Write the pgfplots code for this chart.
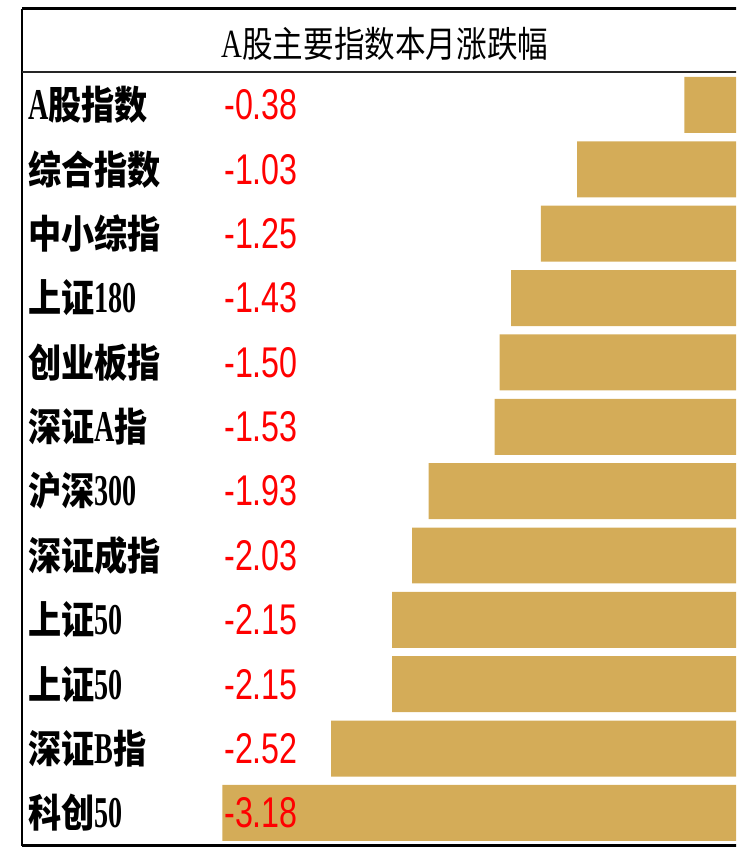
\documentclass[border=0pt]{standalone}
\usepackage{pgfplots}
\pgfplotsset{compat=1.18}
\usepackage{fontspec}
\newfontfamily\cjk[FakeStretch=0.85]{Noto Sans CJK SC}
\newfontfamily\lser[FakeStretch=0.64]{Liberation Serif}
\newfontfamily\tser[FakeStretch=0.72]{Liberation Serif}
\newfontfamily\nar[FakeStretch=0.75]{Liberation Sans}
\definecolor{gold}{HTML}{D4AC58}
\definecolor{numred}{HTML}{FF0000}
\newcommand{\nmfont}{\fontsize{19.5pt}{19.5pt}\selectfont\cjk\bfseries}
\newcommand{\lat}[1]{{\fontsize{22pt}{22pt}\selectfont\lser\bfseries #1}}
\newcommand{\nm}[2]{\node[anchor=west, inner sep=0pt] at (axis cs:-4.358,#1) {\nmfont #2};}
\newcommand{\vl}[2]{\node[anchor=west, inner sep=0pt, text=numred] at (axis cs:-3.170,#1) {\fontsize{21.5pt}{21.5pt}\selectfont\nar #2};}
\begin{document}
\begin{tikzpicture}
\begin{axis}[
  width=368pt, height=427pt, scale only axis,
  xmin=-4.527, xmax=-0.0667,
  ymin=-1.631, ymax=11.638, y dir=reverse,
  hide axis, clip mode=global,
  xbar, bar width=0.87,
]
\addplot[fill=gold, draw=none] coordinates {
  (-0.38,0) (-1.03,1) (-1.25,2) (-1.43,3) (-1.50,4) (-1.53,5)
  (-1.93,6) (-2.03,7) (-2.15,8) (-2.15,9) (-2.52,10) (-3.18,11)
};
% frame
\draw[line width=1.5pt] (axis cs:-4.394,-1.4916) -- (axis cs:0.3,-1.4916);
\draw[line width=1.5pt] (axis cs:-4.394,11.513) -- (axis cs:0.3,11.513);
\draw[line width=1pt] (axis cs:-4.394,-1.4916) -- (axis cs:-4.394,11.513);
\draw[line width=1.1pt, black!85] (axis cs:-4.394,-0.5127) -- (axis cs:0.3,-0.5127);
% title
\node[inner sep=0pt] at (axis cs:-2.194,-0.95) {\fontsize{18pt}{18pt}\selectfont\cjk {\fontsize{20pt}{20pt}\selectfont\tser A}股主要指数本月涨跌幅};
% names
\nm{0}{\lat{A}股指数}
\nm{1}{综合指数}
\nm{2}{中小综指}
\nm{3}{上证\lat{180}}
\nm{4}{创业板指}
\nm{5}{深证\lat{A}指}
\nm{6}{沪深\lat{300}}
\nm{7}{深证成指}
\nm{8}{上证\lat{50}}
\nm{9}{上证\lat{50}}
\nm{10}{深证\lat{B}指}
\nm{11}{科创\lat{50}}
% values
\vl{0}{-0.38}
\vl{1}{-1.03}
\vl{2}{-1.25}
\vl{3}{-1.43}
\vl{4}{-1.50}
\vl{5}{-1.53}
\vl{6}{-1.93}
\vl{7}{-2.03}
\vl{8}{-2.15}
\vl{9}{-2.15}
\vl{10}{-2.52}
\vl{11}{-3.18}
\end{axis}
\pgfresetboundingbox
\useasboundingbox (current axis.south west) rectangle (current axis.north east);
\end{tikzpicture}
\end{document}
